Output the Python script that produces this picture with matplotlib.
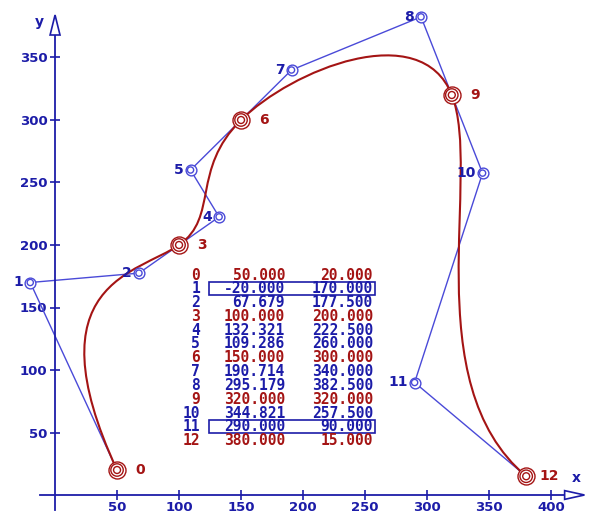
import numpy as np
import matplotlib.pyplot as plt
from matplotlib.path import Path
from matplotlib.patches import PathPatch, Rectangle, FancyArrow

# Bezier control points (knots every 3rd point)
px = [50.000, -20.000, 67.679, 100.000, 132.321, 109.286, 150.000,
      190.714, 295.179, 320.000, 344.821, 290.000, 380.000]
py = [20.000, 170.000, 177.500, 200.000, 222.500, 260.000, 300.000,
      340.000, 382.500, 320.000, 257.500, 90.000, 15.000]
boxed_rows = [1, 11]
xticks = [50, 100, 150, 200, 250, 300, 350, 400]
yticks = [50, 100, 150, 200, 250, 300, 350]

BLUE = '#1c1ca8'
LBLUE = '#4a4ad8'
RED = '#a41414'

fig = plt.figure(figsize=(5.96, 5.13), dpi=100)
ax = fig.add_axes([0, 0, 1, 1])
ax.set_xlim(-44.4, 436.3)
ax.set_ylim(-14.4, 396)

# axes through the origin
for s in ['top', 'right']:
    ax.spines[s].set_visible(False)
ax.spines['left'].set_position(('data', 0))
ax.spines['bottom'].set_position(('data', 0))
ax.spines['left'].set_bounds(-12, 368)
ax.spines['bottom'].set_bounds(-12, 411)
for s in ['left', 'bottom']:
    ax.spines[s].set_color(BLUE)
    ax.spines[s].set_linewidth(1.3)
ax.set_xticks(xticks)
ax.set_yticks(yticks)
ax.tick_params(direction='inout', length=7, width=1.2, color=BLUE,
               labelcolor=BLUE, labelsize=9.5)
ax.tick_params(axis='x', pad=0.5)
ax.tick_params(axis='y', pad=2)
for lab in ax.get_xticklabels() + ax.get_yticklabels():
    lab.set_fontweight('bold')

# hollow arrow heads
ax.add_patch(FancyArrow(0, 368, 0, 16, width=0.01, head_width=8, head_length=16,
                        length_includes_head=True, fc='white', ec=BLUE, lw=1.2, zorder=3))
ax.add_patch(FancyArrow(411, 0, 16, 0, width=0.01, head_width=7, head_length=16,
                        length_includes_head=True, fc='white', ec=BLUE, lw=1.2, zorder=3))
ax.text(-9, 378, 'y', color=BLUE, fontsize=10, fontweight='bold', ha='right', va='center')
ax.text(420, 8, 'x', color=BLUE, fontsize=10, fontweight='bold', ha='center', va='bottom')

# control polygon
ax.plot(px, py, color=LBLUE, lw=1.0, zorder=2)

# bezier curve through knots
verts = list(zip(px, py))
codes = [Path.MOVETO] + [Path.CURVE4] * (len(verts) - 1)
ax.add_patch(PathPatch(Path(verts, codes), fc='none', ec=RED, lw=1.5, zorder=3))

# markers and labels
for i, (x, y) in enumerate(zip(px, py)):
    if i % 3 == 0:
        for s in [150, 80, 25]:
            ax.scatter([x], [y], s=s, facecolors='white' if s == 150 else 'none',
                       edgecolors=RED, linewidths=1.0, zorder=4)
        ax.annotate(str(i), (x, y), xytext=(23, 0), textcoords='offset pixels',
                    color=RED, fontsize=10, fontweight='bold', ha='center', va='center')
    else:
        for s in [60, 20]:
            ax.scatter([x], [y], s=s, facecolors='white' if s == 60 else 'none',
                       edgecolors=LBLUE, linewidths=1.0, zorder=4)
        ax.annotate(str(i), (x, y), xytext=(-7, 0), textcoords='offset pixels',
                    color=BLUE, fontsize=10, fontweight='bold', ha='right', va='center')

# table of control points (pixel-based placement)
W, H = 596, 513
def fx(p):
    return p / W
def fy(p):
    return 1 - p / H

for i, (x, y) in enumerate(zip(px, py)):
    c = RED if i % 3 == 0 else BLUE
    yy = fy(275 + 13.8 * i)
    kw = dict(transform=ax.transAxes, color=c, fontsize=10.5, fontweight='bold',
              family='DejaVu Sans Mono', va='center', ha='right')
    ax.text(fx(200), yy, str(i), **kw)
    ax.text(fx(285), yy, f'{x:.3f}', **kw)
    ax.text(fx(373), yy, f'{y:.3f}', **kw)
    if i in boxed_rows:
        ax.add_patch(Rectangle((fx(209), fy(275 + 13.8 * i + 6.5)), fx(375) - fx(209),
                               13 / H, transform=ax.transAxes, fc='none',
                               ec=BLUE, lw=1.2))

fig.savefig('out.png', dpi=100)
